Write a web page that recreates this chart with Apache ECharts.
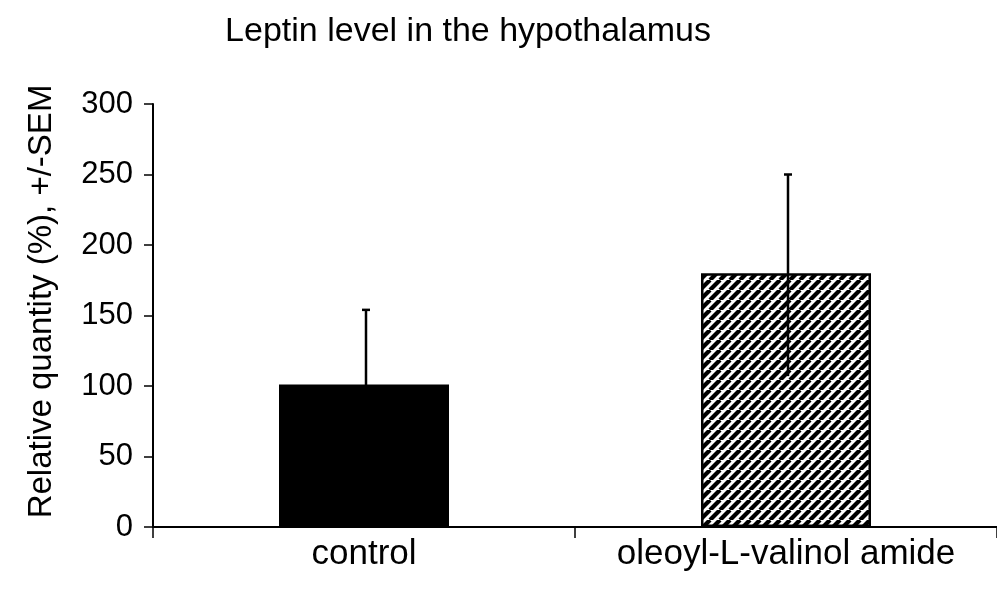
<!DOCTYPE html>
<html>
<head>
<meta charset="UTF-8" />
<title>Leptin level in the hypothalamus</title>
<script src="https://cdn.jsdelivr.net/npm/echarts@6/dist/echarts.min.js"></script>
<style type="text/css">
body{
	margin: 0px;
	background-color: #fff;
}
#chart{
	width: 997px;
	height: 589px;
}
</style>
</head>
<body>

<div id="chart"></div>

<script type="text/javascript">

// values
var categories = ['control', 'oleoyl-L-valinol amide'];
var quantity = [101, 180];
var errLow = [48, 107];
var errHigh = [154, 250];
var yTicks = [0, 50, 100, 150, 200, 250, 300];

var FONT = '"Liberation Sans", Arial, sans-serif';

// diagonal hatch for the treated bar
function makeHatch(){
	var c = document.createElement('canvas');
	c.width = 10;
	c.height = 10;
	var ctx = c.getContext('2d');
	ctx.fillStyle = '#fff';
	ctx.fillRect(0, 0, 10, 10);
	ctx.strokeStyle = '#000';
	ctx.lineWidth = 4.2;
	for(var k = -1; k <= 1; k++){
		ctx.beginPath();
		ctx.moveTo(k * 10, 10);
		ctx.lineTo(k * 10 + 10, 0);
		ctx.stroke();
	}
	return c;
}

var barColors = ['#000', { image: makeHatch(), repeat: 'repeat' }];

var barData = quantity.map(function(v, i){
	return {
		value: v,
		itemStyle: { color: barColors[i], borderColor: '#000', borderWidth: 2.5 }
	};
});

var errData = categories.map(function(c, i){
	return [i, errLow[i], errHigh[i]];
});

function renderErr(params, api){
	var lo = api.coord([api.value(0), api.value(1)]);
	var hi = api.coord([api.value(0), api.value(2)]);
	var x = hi[0] + 2;
	return {
		type: 'group',
		children: [
			{ type: 'line', shape: { x1: x, y1: lo[1], x2: x, y2: hi[1] }, style: { stroke: '#000', lineWidth: 2.5 } },
			{ type: 'line', shape: { x1: x - 4, y1: hi[1], x2: x + 4, y2: hi[1] }, style: { stroke: '#000', lineWidth: 2.5 } }
		]
	};
}

var myChart = echarts.init(document.getElementById('chart'));

myChart.setOption({
	animation: false,
	backgroundColor: '#fff',
	title: {
		text: 'Leptin level in the hypothalamus',
		left: 463,
		top: 10,
		textAlign: 'center',
		textStyle: { fontFamily: FONT, fontSize: 34, fontWeight: 'normal', color: '#000' }
	},
	grid: { left: 153, right: -6, top: 104, bottom: 62, containLabel: false },
	xAxis: {
		type: 'category',
		data: categories,
		boundaryGap: true,
		axisLine: { lineStyle: { color: '#000', width: 2 } },
		axisTick: { show: true, interval: 0, length: 11, lineStyle: { color: '#000', width: 1.5 } },
		axisLabel: { interval: 0, fontFamily: FONT, fontSize: 35, color: '#000', margin: 10 }
	},
	yAxis: {
		type: 'value',
		min: yTicks[0],
		max: yTicks[yTicks.length - 1],
		interval: yTicks[1] - yTicks[0],
		name: 'Relative quantity (%), +/-SEM',
		nameLocation: 'middle',
		nameGap: 95,
		nameTextStyle: { fontFamily: FONT, fontSize: 33, color: '#000', padding: [0, 0, 0, 28] },
		axisLine: { show: true, lineStyle: { color: '#000', width: 2 } },
		axisTick: { show: true, length: 9, lineStyle: { color: '#000', width: 1.5 } },
		axisLabel: { fontFamily: FONT, fontSize: 31, color: '#000', margin: 20 },
		splitLine: { show: false }
	},
	series: [
		{
			type: 'bar',
			data: barData,
			barWidth: 170
		},
		{
			type: 'custom',
			data: errData,
			renderItem: renderErr,
			z: 3
		}
	]
});

</script>

</body>
</html>
